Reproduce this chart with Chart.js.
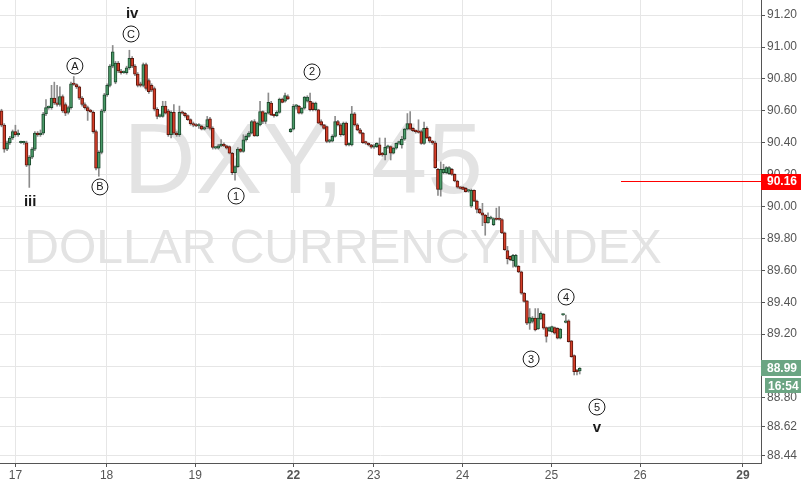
<!DOCTYPE html>
<html>
<head>
<meta charset="utf-8">
<title>DXY, 45</title>
<script src="https://cdn.jsdelivr.net/npm/chart.js@4.4.0/dist/chart.umd.min.js"></script>
<style>
  html, body { margin: 0; padding: 0; background: #fff; }
  #wrap { width: 801px; height: 483px; }
</style>
</head>
<body>
<div id="wrap"><canvas id="chart" width="801" height="483"></canvas></div>
<script>
// 45 minute candles (one entry per candle)
const opens = [
  90.60, 90.51, 90.36, 90.40, 90.43, 90.47, 90.45, 90.40, 90.40, 90.40,
  90.26, 90.31, 90.36, 90.46, 90.45, 90.46, 90.58, 90.62, 90.62, 90.68,
  90.65, 90.64, 90.69, 90.64, 90.59, 90.62, 90.77, 90.765, 90.75, 90.68,
  90.64, 90.62, 90.60, 90.59, 90.47, 90.24, 90.34, 90.60, 90.70, 90.76,
  90.88, 90.78, 90.90, 90.85, 90.84, 90.84, 90.87, 90.93, 90.88, 90.83,
  90.77, 90.76, 90.89, 90.79, 90.76, 90.74, 90.61, 90.565, 90.565, 90.63,
  90.60, 90.45, 90.59, 90.46, 90.45, 90.59, 90.585, 90.57, 90.545, 90.52,
  90.51, 90.505, 90.505, 90.485, 90.50, 90.55, 90.49, 90.366, 90.366, 90.38,
  90.387, 90.38, 90.376, 90.334, 90.212, 90.25, 90.36, 90.345, 90.418, 90.44,
  90.46, 90.533, 90.443, 90.512, 90.596, 90.533, 90.586, 90.649, 90.575, 90.569,
  90.59, 90.674, 90.66, 90.69, 90.47, 90.485, 90.628, 90.628, 90.586, 90.617,
  90.66, 90.66, 90.649, 90.607, 90.607, 90.533, 90.512, 90.502, 90.408, 90.41,
  90.44, 90.533, 90.512, 90.45, 90.523, 90.387, 90.387, 90.582, 90.512, 90.481,
  90.46, 90.408, 90.397, 90.387, 90.372, 90.376, 90.387, 90.334, 90.324, 90.372,
  90.376, 90.334, 90.366, 90.397, 90.387, 90.422, 90.485, 90.52, 90.49, 90.475,
  90.475, 90.47, 90.395, 90.49, 90.435, 90.41, 90.40, 90.233, 90.107, 90.212,
  90.212, 90.206, 90.233, 90.202, 90.16, 90.122, 90.122, 90.114, 90.097, 90.002,
  90.101, 90.034, 89.982, 89.96, 89.946, 89.898, 89.925, 89.887, 89.925, 89.925,
  89.919, 89.835, 89.724, 89.688, 89.661, 89.625, 89.625, 89.59, 89.457, 89.409,
  89.269, 89.279, 89.30, 89.233, 89.296, 89.325, 89.241, 89.22, 89.216, 89.241,
  89.237, 89.174, 89.32, 89.273, 89.283, 89.158, 89.065, 88.975, 88.969
];
const highs = [
  90.61, 90.52, 90.41, 90.44, 90.48, 90.51, 90.48, 90.41, 90.41, 90.41,
  90.32, 90.37, 90.47, 90.47, 90.48, 90.59, 90.67, 90.63, 90.76, 90.78,
  90.76, 90.75, 90.70, 90.65, 90.63, 90.78, 90.815, 90.77, 90.755, 90.69,
  90.65, 90.63, 90.61, 90.60, 90.48, 90.35, 90.61, 90.71, 90.77, 90.89,
  91.01, 90.91, 90.91, 90.86, 90.85, 90.88, 90.98, 90.94, 90.89, 90.84,
  90.78, 90.90, 90.90, 90.80, 90.77, 90.75, 90.62, 90.58, 90.66, 90.66,
  90.61, 90.60, 90.64, 90.47, 90.63, 90.60, 90.59, 90.575, 90.55, 90.53,
  90.52, 90.52, 90.51, 90.50, 90.565, 90.56, 90.50, 90.375, 90.39, 90.42,
  90.40, 90.385, 90.38, 90.34, 90.255, 90.37, 90.365, 90.45, 90.45, 90.47,
  90.54, 90.545, 90.53, 90.66, 90.60, 90.59, 90.712, 90.66, 90.58, 90.60,
  90.68, 90.68, 90.712, 90.70, 90.49, 90.64, 90.64, 90.635, 90.62, 90.69,
  90.695, 90.712, 90.655, 90.655, 90.61, 90.544, 90.515, 90.505, 90.42, 90.45,
  90.565, 90.54, 90.52, 90.53, 90.53, 90.40, 90.628, 90.59, 90.52, 90.49,
  90.465, 90.41, 90.40, 90.39, 90.39, 90.40, 90.43, 90.34, 90.43, 90.385,
  90.38, 90.37, 90.40, 90.41, 90.44, 90.49, 90.583, 90.596, 90.495, 90.48,
  90.544, 90.48, 90.53, 90.50, 90.44, 90.415, 90.41, 90.24, 90.28, 90.265,
  90.25, 90.25, 90.24, 90.205, 90.165, 90.125, 90.125, 90.12, 90.105, 90.11,
  90.105, 90.04, 89.99, 90.02, 89.95, 89.96, 89.94, 89.93, 89.99, 90.00,
  89.925, 89.84, 89.75, 89.69, 89.70, 89.70, 89.63, 89.595, 89.46, 89.41,
  89.36, 89.31, 89.36, 89.36, 89.34, 89.33, 89.245, 89.245, 89.25, 89.245,
  89.24, 89.235, 89.325, 89.32, 89.29, 89.16, 89.07, 88.98, 88.99
];
const lows = [
  90.50, 90.34, 90.35, 90.39, 90.42, 90.44, 90.44, 90.395, 90.39, 90.25,
  90.12, 90.30, 90.35, 90.44, 90.44, 90.45, 90.57, 90.61, 90.61, 90.64,
  90.63, 90.63, 90.59, 90.57, 90.58, 90.61, 90.76, 90.74, 90.67, 90.63,
  90.61, 90.54, 90.59, 90.46, 90.23, 90.19, 90.33, 90.59, 90.69, 90.75,
  90.87, 90.77, 90.84, 90.83, 90.835, 90.83, 90.86, 90.87, 90.82, 90.75,
  90.75, 90.75, 90.73, 90.71, 90.72, 90.60, 90.55, 90.56, 90.56, 90.58,
  90.44, 90.43, 90.45, 90.44, 90.44, 90.58, 90.56, 90.54, 90.51, 90.50,
  90.50, 90.49, 90.48, 90.48, 90.49, 90.48, 90.36, 90.36, 90.36, 90.375,
  90.375, 90.36, 90.33, 90.20, 90.166, 90.245, 90.34, 90.34, 90.41, 90.435,
  90.455, 90.44, 90.44, 90.505, 90.52, 90.52, 90.58, 90.57, 90.56, 90.565,
  90.585, 90.65, 90.655, 90.67, 90.465, 90.48, 90.61, 90.58, 90.58, 90.61,
  90.655, 90.60, 90.60, 90.60, 90.52, 90.505, 90.485, 90.40, 90.40, 90.405,
  90.435, 90.505, 90.44, 90.445, 90.38, 90.38, 90.38, 90.505, 90.475, 90.455,
  90.395, 90.39, 90.38, 90.365, 90.365, 90.37, 90.32, 90.315, 90.292, 90.365,
  90.292, 90.33, 90.36, 90.39, 90.366, 90.415, 90.48, 90.48, 90.47, 90.46,
  90.46, 90.39, 90.39, 90.425, 90.40, 90.39, 90.24, 90.07, 90.065, 90.205,
  90.205, 90.20, 90.195, 90.155, 90.115, 90.11, 90.105, 90.09, 90.09, 89.995,
  90.03, 89.96, 89.955, 89.88, 89.82, 89.895, 89.92, 89.88, 89.915, 89.915,
  89.83, 89.725, 89.64, 89.66, 89.62, 89.62, 89.585, 89.45, 89.40, 89.26,
  89.23, 89.27, 89.22, 89.23, 89.29, 89.23, 89.15, 89.215, 89.21, 89.20,
  89.17, 89.17, 89.318, 89.27, 89.15, 89.055, 88.944, 88.944, 88.95
];
const closes = [
  90.51, 90.36, 90.40, 90.43, 90.47, 90.45, 90.46, 90.402, 90.40, 90.26,
  90.31, 90.36, 90.46, 90.45, 90.46, 90.58, 90.62, 90.625, 90.68, 90.65,
  90.64, 90.69, 90.60, 90.585, 90.62, 90.77, 90.765, 90.75, 90.68, 90.64,
  90.62, 90.60, 90.595, 90.47, 90.24, 90.34, 90.60, 90.70, 90.76, 90.88,
  90.97, 90.90, 90.85, 90.84, 90.842, 90.87, 90.93, 90.88, 90.83, 90.76,
  90.76, 90.89, 90.74, 90.72, 90.73, 90.61, 90.565, 90.57, 90.63, 90.585,
  90.45, 90.59, 90.46, 90.45, 90.59, 90.585, 90.57, 90.545, 90.52, 90.51,
  90.505, 90.51, 90.485, 90.495, 90.545, 90.49, 90.37, 90.37, 90.38, 90.387,
  90.38, 90.366, 90.334, 90.212, 90.25, 90.36, 90.345, 90.418, 90.44, 90.46,
  90.533, 90.443, 90.523, 90.596, 90.533, 90.586, 90.653, 90.575, 90.569, 90.59,
  90.674, 90.653, 90.695, 90.674, 90.485, 90.628, 90.63, 90.586, 90.617, 90.687,
  90.687, 90.607, 90.607, 90.649, 90.523, 90.512, 90.49, 90.408, 90.418, 90.44,
  90.533, 90.512, 90.45, 90.523, 90.387, 90.397, 90.582, 90.512, 90.481, 90.46,
  90.401, 90.397, 90.387, 90.372, 90.38, 90.397, 90.324, 90.324, 90.372, 90.38,
  90.334, 90.366, 90.397, 90.408, 90.422, 90.485, 90.52, 90.485, 90.475, 90.47,
  90.465, 90.395, 90.49, 90.43, 90.41, 90.40, 90.244, 90.107, 90.233, 90.233,
  90.244, 90.244, 90.202, 90.16, 90.122, 90.114, 90.107, 90.093, 90.101, 90.101,
  90.034, 89.982, 89.96, 89.946, 89.898, 89.933, 89.933, 89.925, 89.919, 89.919,
  89.835, 89.73, 89.673, 89.667, 89.694, 89.694, 89.59, 89.457, 89.405, 89.269,
  89.304, 89.30, 89.227, 89.30, 89.33, 89.237, 89.185, 89.241, 89.248, 89.206,
  89.174, 89.231, 89.322, 89.283, 89.153, 89.059, 88.965, 88.965, 88.986
];

// day labels along the bottom, placed at candle index positions
const dayTicks = [5.0, 37.8, 69.7, 105.0, 133.9, 165.8, 197.8, 229.7, 266.7];
const dayLabels = ['17', '18', '19', '22', '23', '24', '25', '26', '29'];
const boldDays = ['22', '29'];
const priceTicks = [91.20, 91.00, 90.80, 90.60, 90.40, 90.20, 90.00, 89.80,
                    89.60, 89.40, 89.20, 89.00, 88.80, 88.62, 88.44];

// elliott wave marks (candle index, price)
const waveLabels = ['A', 'B', 'C', '1', '2', '3', '4', '5'];
const waveX = [26.4, 35.4, 46.6, 84.4, 111.7, 190.5, 203.1, 214.2];
const waveY = [90.881, 90.123, 91.082, 90.066, 90.844, 89.044, 89.433, 88.743];
const degreeLabels = ['iii', 'iv', 'v'];
const degreeX = [10.3, 47.0, 214.2];
const degreeY = [90.029, 91.207, 88.612];

const alertLevel = 90.16;
const alertFrom = 223;
const barClock = '16:54';

const FONT = '"Liberation Sans", Arial, sans-serif';
const UP = '#4a9a68', UP_EDGE = '#1d4a2e';
const DOWN = '#d43d28', DOWN_EDGE = '#5c170e';
const LAST_BG = '#6ba583';

const idx = closes.map((_, i) => i);
const isUp = idx.map(i => closes[i] >= opens[i]);

const overlay = {
  id: 'overlay',
  beforeDatasetsDraw(chart) {
    const { ctx, chartArea: a } = chart;
    ctx.save();
    ctx.beginPath();
    ctx.rect(a.left, a.top, a.right - a.left, a.bottom - a.top);
    ctx.clip();
    ctx.fillStyle = '#e3e3e3';
    ctx.textAlign = 'center';
    ctx.textBaseline = 'alphabetic';
    ctx.font = '100px ' + FONT;
    ctx.fillText('DXY, 45', 303, 193);
    ctx.font = '48px ' + FONT;
    ctx.fillText('DOLLAR CURRENCY INDEX', 343, 263);
    ctx.restore();
  },
  afterDraw(chart) {
    const { ctx, chartArea: a } = chart;
    const xs = chart.scales.x, ys = chart.scales.y;
    ctx.save();

    // wave counts in circles
    ctx.lineWidth = 1;
    ctx.textAlign = 'center';
    ctx.textBaseline = 'middle';
    waveLabels.forEach((t, k) => {
      const px = xs.getPixelForValue(waveX[k]);
      const py = ys.getPixelForValue(waveY[k]);
      ctx.beginPath();
      ctx.arc(px, py, 8, 0, Math.PI * 2);
      ctx.fillStyle = '#fff';
      ctx.fill();
      ctx.strokeStyle = '#1a1a1a';
      ctx.stroke();
      ctx.fillStyle = '#1a1a1a';
      ctx.font = '11px ' + FONT;
      ctx.fillText(t, px, py + 0.5);
    });
    ctx.font = 'bold 15px ' + FONT;
    degreeLabels.forEach((t, k) => {
      ctx.fillText(t, xs.getPixelForValue(degreeX[k]), ys.getPixelForValue(degreeY[k]));
    });

    // horizontal alert line + its price tag
    const ly = Math.round(ys.getPixelForValue(alertLevel));
    const lx = Math.round(xs.getPixelForValue(alertFrom));
    ctx.fillStyle = '#ff0000';
    ctx.fillRect(lx, ly, a.right - lx, 1);

    ctx.textAlign = 'left';
    ctx.font = 'bold 12px ' + FONT;
    const tag = (x0, cy, w, h, bg, text) => {
      ctx.fillStyle = bg;
      ctx.fillRect(x0, Math.round(cy - h / 2), w, h);
      ctx.fillStyle = '#fff';
      ctx.fillText(text, x0 + (x0 > a.right ? 3 : 6), cy + 0.5);
    };
    tag(a.right, ly + 0.5, 40, 16, '#ff0000', alertLevel.toFixed(2));

    // last price + bar countdown
    const last = closes[closes.length - 1];
    const cy = ys.getPixelForValue(last);
    tag(a.right, cy, 40, 16, LAST_BG, last.toFixed(2));
    tag(a.right + 4, cy + 17.5, 36, 15, LAST_BG, barClock);
    ctx.restore();
  }
};

new Chart(document.getElementById('chart'), {
  type: 'bar',
  data: {
    datasets: [
      {
        data: idx.map(i => ({ x: i, y: [lows[i], highs[i]] })),
        backgroundColor: '#8c8c8c',
        barThickness: 1,
        minBarLength: 1,
        grouped: false,
        order: 2
      },
      {
        data: idx.map(i => ({ x: i, y: [opens[i], closes[i]] })),
        backgroundColor: isUp.map(u => u ? UP : DOWN),
        borderColor: isUp.map(u => u ? UP_EDGE : DOWN_EDGE),
        borderWidth: 1,
        borderSkipped: false,
        barThickness: 3,
        minBarLength: 1.5,
        grouped: false,
        order: 1
      }
    ]
  },
  options: {
    responsive: false,
    animation: false,
    events: [],
    layout: { padding: 0 },
    plugins: { legend: { display: false }, tooltip: { enabled: false } },
    scales: {
      x: {
        type: 'linear',
        min: -0.54,
        max: 273.2,
        offset: false,
        grid: { color: '#e6e6e6', offset: false, tickLength: 4, tickColor: '#555' },
        border: { color: '#555' },
        afterBuildTicks: s => { s.ticks = dayTicks.map(v => ({ value: v })); },
        afterFit: s => { s.height = 20; s.paddingLeft = 0; s.paddingRight = 0; },
        ticks: {
          autoSkip: false,
          maxRotation: 0,
          padding: 1,
          color: '#555',
          callback: v => dayLabels[dayTicks.indexOf(v)],
          font: c => ({
            family: FONT,
            size: 12,
            weight: c.tick && boldDays.includes(dayLabels[dayTicks.indexOf(c.tick.value)]) ? 'bold' : 'normal'
          })
        }
      },
      y: {
        position: 'right',
        min: 88.392,
        max: 91.295,
        grid: { color: '#e6e6e6', tickLength: 4, tickColor: '#555' },
        border: { color: '#555' },
        afterBuildTicks: s => { s.ticks = priceTicks.map(v => ({ value: v })); },
        afterFit: s => { s.width = 40; s.paddingTop = 0; s.paddingBottom = 0; },
        ticks: {
          autoSkip: false,
          padding: 2,
          color: '#555',
          font: { family: FONT, size: 12 },
          callback: v => Number(v).toFixed(2)
        }
      }
    }
  },
  plugins: [overlay]
});
</script>
</body>
</html>
